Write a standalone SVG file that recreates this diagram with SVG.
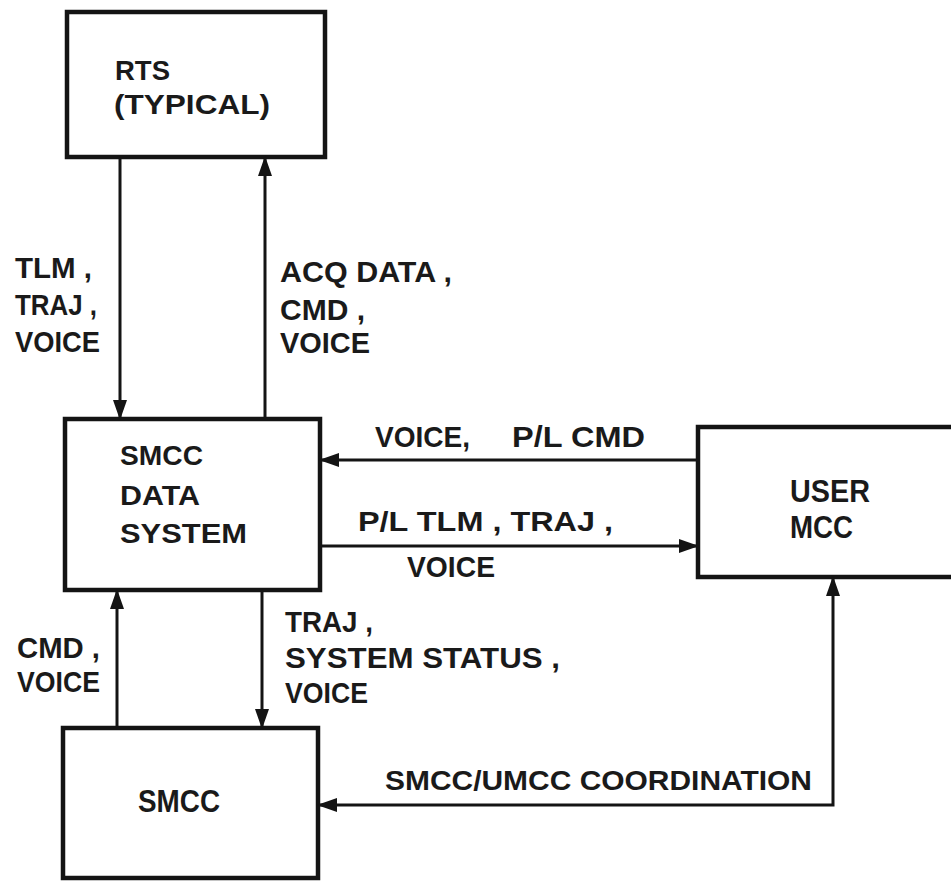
<svg xmlns="http://www.w3.org/2000/svg" width="951" height="881" viewBox="0 0 951 881">
<defs>
<style>
.box{fill:none;stroke:#141414;stroke-width:4.5}
.ln{fill:none;stroke:#141414;stroke-width:3}
text{font-family:"Liberation Sans",Arial,sans-serif;font-weight:bold;font-size:30px;fill:#1a1a1a}
.s28{font-size:28px}
.s32{font-size:32px}
</style>
<marker id="ah" viewBox="0 0 20 14" refX="19" refY="7" markerWidth="20" markerHeight="14" markerUnits="userSpaceOnUse" orient="auto-start-reverse">
<path d="M0,0 L20,7 L0,14 Z" fill="#141414"/>
</marker>
</defs>
<rect width="951" height="881" fill="#ffffff"/>
<g id="rts">
<rect class="box" x="67" y="12" width="258" height="145"/>
<text class="s28" x="115" y="80" textLength="55" lengthAdjust="spacingAndGlyphs">RTS</text>
<text class="s28" x="114" y="114" textLength="156" lengthAdjust="spacingAndGlyphs">(TYPICAL)</text>
</g>
<g id="smcc-data-system">
<rect class="box" x="65" y="419" width="255" height="171"/>
<text class="s28" x="120" y="465" textLength="83" lengthAdjust="spacingAndGlyphs">SMCC</text>
<text class="s28" x="120" y="505" textLength="80" lengthAdjust="spacingAndGlyphs">DATA</text>
<text class="s28" x="120" y="543" textLength="127" lengthAdjust="spacingAndGlyphs">SYSTEM</text>
</g>
<g id="user-mcc">
<rect class="box" x="698" y="427" width="260" height="150"/>
<text class="s32" x="790" y="502" textLength="80" lengthAdjust="spacingAndGlyphs">USER</text>
<text class="s32" x="790" y="538" textLength="63" lengthAdjust="spacingAndGlyphs">MCC</text>
</g>
<g id="smcc">
<rect class="box" x="63" y="728" width="255" height="150"/>
<text class="s32" x="138" y="812" textLength="82" lengthAdjust="spacingAndGlyphs">SMCC</text>
</g>
<g id="connectors">
<line class="ln" x1="120" y1="157" x2="120" y2="419" marker-end="url(#ah)"/>
<line class="ln" x1="265" y1="419" x2="265" y2="157" marker-end="url(#ah)"/>
<line class="ln" x1="698" y1="460" x2="320" y2="460" marker-end="url(#ah)"/>
<line class="ln" x1="320" y1="546" x2="698" y2="546" marker-end="url(#ah)"/>
<line class="ln" x1="117" y1="728" x2="117" y2="590" marker-end="url(#ah)"/>
<line class="ln" x1="262" y1="590" x2="262" y2="728" marker-end="url(#ah)"/>
<polyline class="ln" points="833,577 833,805 318,805" marker-start="url(#ah)" marker-end="url(#ah)"/>
<text x="15" y="278" textLength="77" lengthAdjust="spacingAndGlyphs">TLM ,</text>
<text x="15" y="315" textLength="82" lengthAdjust="spacingAndGlyphs">TRAJ ,</text>
<text x="15" y="352" textLength="85" lengthAdjust="spacingAndGlyphs">VOICE</text>
<text x="280" y="282" textLength="172" lengthAdjust="spacingAndGlyphs">ACQ DATA ,</text>
<text x="280" y="320" textLength="85" lengthAdjust="spacingAndGlyphs">CMD ,</text>
<text x="280" y="353" textLength="90" lengthAdjust="spacingAndGlyphs">VOICE</text>
<text x="375" y="447" textLength="95" lengthAdjust="spacingAndGlyphs">VOICE,</text>
<text x="512" y="447" textLength="133" lengthAdjust="spacingAndGlyphs">P/L CMD</text>
<text class="s28" x="358" y="531" textLength="255" lengthAdjust="spacingAndGlyphs">P/L TLM , TRAJ ,</text>
<text x="407" y="577" textLength="88" lengthAdjust="spacingAndGlyphs">VOICE</text>
<text x="17" y="658" textLength="83" lengthAdjust="spacingAndGlyphs">CMD ,</text>
<text x="17" y="692" textLength="83" lengthAdjust="spacingAndGlyphs">VOICE</text>
<text x="285" y="632" textLength="88" lengthAdjust="spacingAndGlyphs">TRAJ ,</text>
<text x="285" y="668" textLength="275" lengthAdjust="spacingAndGlyphs">SYSTEM STATUS ,</text>
<text x="285" y="703" textLength="83" lengthAdjust="spacingAndGlyphs">VOICE</text>
<text class="s28" x="385" y="790" textLength="427" lengthAdjust="spacingAndGlyphs">SMCC/UMCC COORDINATION</text>
</g>
</svg>
